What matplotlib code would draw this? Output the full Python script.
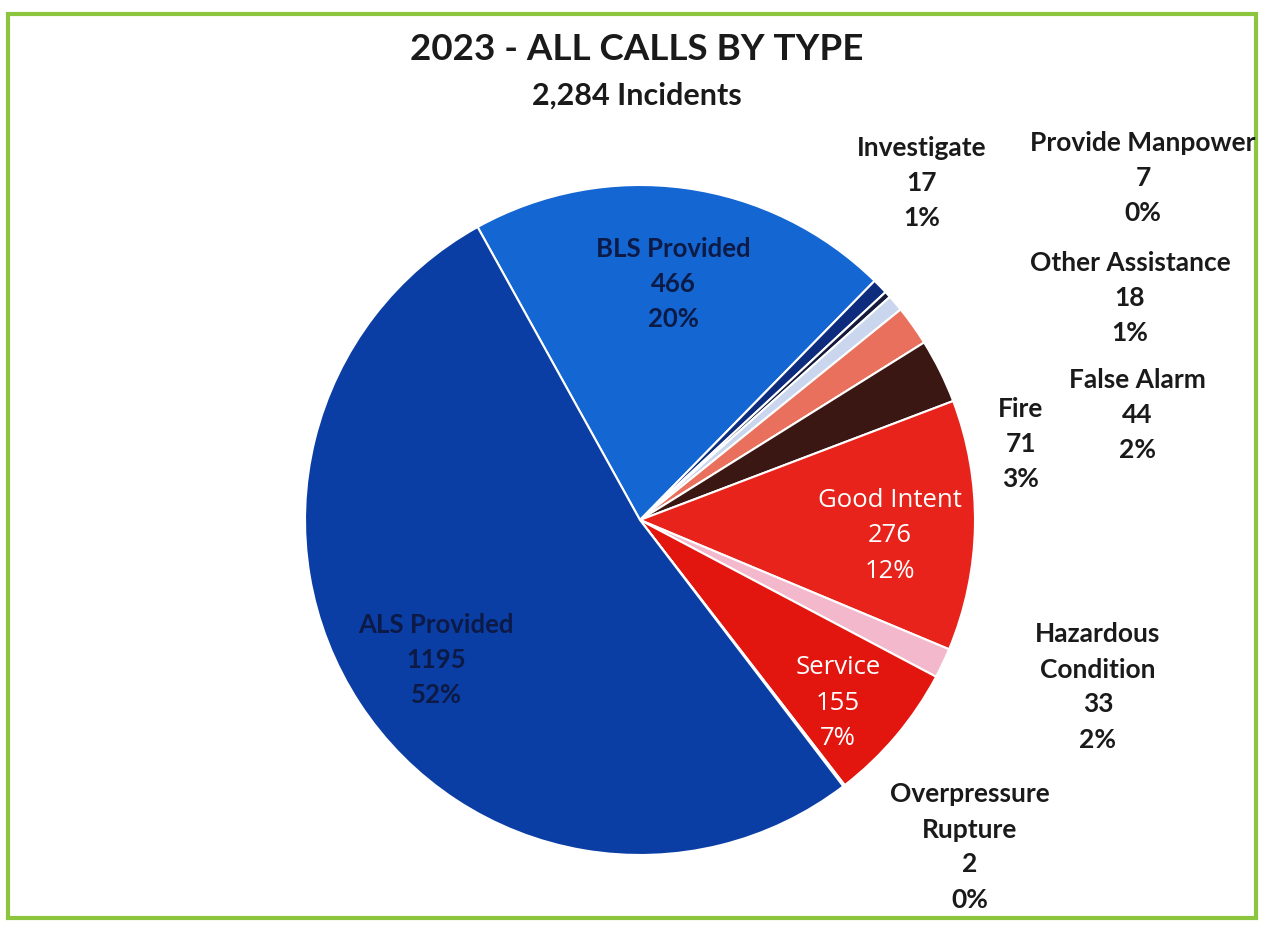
import matplotlib.pyplot as plt
from matplotlib.patches import Rectangle

# data
categories = ["BLS Provided", "Investigate", "Provide Manpower", "Other Assistance",
              "False Alarm", "Fire", "Good Intent", "Hazardous\nCondition", "Service",
              "Overpressure\nRupture", "ALS Provided"]
counts = [466, 17, 7, 18, 44, 71, 276, 33, 155, 2, 1195]
pct_labels = ["20%", "1%", "0%", "1%", "2%", "3%", "12%", "2%", "7%", "0%", "52%"]
colors = ["#1466D2", "#0E2C7E", "#151A3A", "#C9D6EE", "#E8705C", "#3A1712",
          "#E8231B", "#F4B8CC", "#E3150F", "#F6E4E8", "#0B3EA5"]

# label layout (pixel coords in the image, label centre)
label_pos = [(673, 284), (922, 183), (1143, 178), (1130, 298), (1137, 415),
             (1021, 444), (890, 536), (1098, 687), (838, 703), (970, 847), (436, 660)]
label_style = ["dark", "out", "out", "out", "out", "out", "white", "out", "white",
               "out", "dark"]

W, H = 1270, 931
fig = plt.figure(figsize=(W / 100, H / 100), dpi=100)
ax = fig.add_axes([0, 0, 1, 1])

cx, cy, r = 640, H - 520, 335
ax.pie(counts, colors=colors, startangle=119, counterclock=False,
       center=(cx, cy), radius=r, frame=True,
       wedgeprops=dict(edgecolor="white", linewidth=1.5))
ax.set_xlim(0, W)
ax.set_ylim(0, H)
ax.set_aspect("equal")
ax.axis("off")

for name, n, p, (px, py), st in zip(categories, counts, pct_labels, label_pos, label_style):
    txt = f"{name}\n{n}\n{p}"
    if st == "white":
        ax.text(px, H - py, txt, ha="center", va="center", fontsize=18.5,
                color="white", family="Open Sans", linespacing=1.55)
    elif st == "dark":
        ax.text(px, H - py, txt, ha="center", va="center", fontsize=18.5,
                color="#0C1A45", family="Lato", fontweight="bold", linespacing=1.55)
    else:
        ax.text(px, H - py, txt, ha="center", va="center", fontsize=19,
                color="#1A1A1A", family="Lato", fontweight="bold", linespacing=1.55)

ax.text(637, H - 50, "2023 - ALL CALLS BY TYPE", ha="center", va="center",
        fontsize=26.5, color="#1A1A1A", family="Lato", fontweight="bold")
ax.text(637, H - 96, "2,284 Incidents", ha="center", va="center",
        fontsize=22, color="#1A1A1A", family="Lato", fontweight="bold")

# green frame
ax.add_patch(Rectangle((8, H - 918), 1248, 904, fill=False,
                       edgecolor="#8CC63F", linewidth=3))

fig.savefig("out.png", dpi=100, facecolor="white")
